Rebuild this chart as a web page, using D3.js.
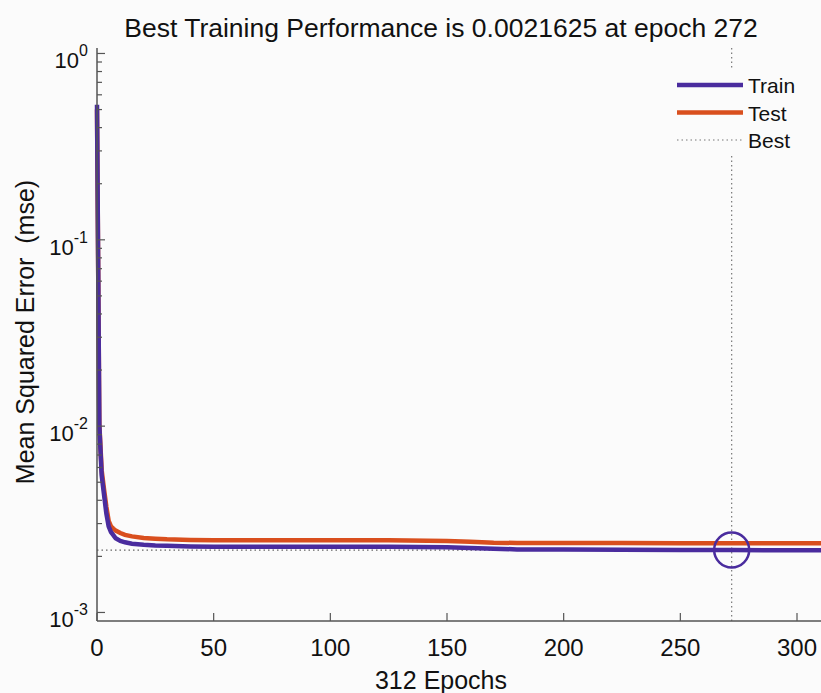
<!DOCTYPE html>
<html>
<head>
<meta charset="utf-8">
<script src="https://cdn.jsdelivr.net/npm/d3@7"></script>
<style>
  body { margin: 0; background: #fbfbfb; }
  svg { display: block; font-family: "Liberation Sans", Arial, sans-serif; }
</style>
</head>
<body>
<div id="app"></div>
<script>
// values
const epochs = [0, 1, 2, 3, 4, 5, 6, 7, 8, 10, 12, 15, 20, 25, 30, 40, 50, 75, 100, 125, 150, 160, 170, 180, 200, 225, 250, 272, 290, 312];
const trainMse = [0.53, 0.0101, 0.00545, 0.0043, 0.0034, 0.0029, 0.0027, 0.0026, 0.0025, 0.00242, 0.00238, 0.00234, 0.00231, 0.00229, 0.00228, 0.00226, 0.00225, 0.00225, 0.00225, 0.00225, 0.00224, 0.00222, 0.0022, 0.00218, 0.002175, 0.00217, 0.002165, 0.0021625, 0.00216, 0.00216];
const testMse = [0.5, 0.0103, 0.0058, 0.0046, 0.0037, 0.0031, 0.0029, 0.00282, 0.00275, 0.00267, 0.00261, 0.00256, 0.00251, 0.00249, 0.00247, 0.00245, 0.00244, 0.00244, 0.00244, 0.00244, 0.00242, 0.0024, 0.00237, 0.00236, 0.00236, 0.00236, 0.00235, 0.00235, 0.00235, 0.00235];
const bestEpoch = 272;
const bestPerf = 0.0021625;
const xTicks = [0, 50, 100, 150, 200, 250, 300];
const yTicks = [1e-3, 1e-2, 1e-1, 1e0];
const yExps = ['-3', '-2', '-1', '0'];
const legendNames = ['Train', 'Test', 'Best'];

const W = 821, H = 693;
const trainColor = '#4a2c9e', testColor = '#d94f1e', axisColor = '#555';

const svg = d3.select('#app').append('svg')
  .attr('width', W).attr('height', H);

const x = d3.scaleLinear().domain([0, 312]).range([97, 825]);
const y = d3.scaleLog().domain([0.0009, 1.07]).range([621, 48]);

// best markers (dotted)
svg.append('line')
  .attr('x1', x(0)).attr('x2', W)
  .attr('y1', y(bestPerf)).attr('y2', y(bestPerf))
  .attr('stroke', '#666').attr('stroke-width', 1.2).attr('stroke-dasharray', '1.5,3');
svg.append('line')
  .attr('x1', x(bestEpoch)).attr('x2', x(bestEpoch))
  .attr('y1', y.range()[1]).attr('y2', y.range()[0])
  .attr('stroke', '#777').attr('stroke-width', 1.2).attr('stroke-dasharray', '1.5,3');

const line = (vals) => d3.line()
  .x((d, i) => x(epochs[i]))
  .y(d => y(d))(vals);

svg.append('path').attr('d', line(testMse))
  .attr('fill', 'none').attr('stroke', testColor).attr('stroke-width', 4.5);
svg.append('path').attr('d', line(trainMse))
  .attr('fill', 'none').attr('stroke', trainColor).attr('stroke-width', 4.5);

svg.append('circle')
  .attr('cx', x(bestEpoch)).attr('cy', y(bestPerf)).attr('r', 17.5)
  .attr('fill', 'none').attr('stroke', trainColor).attr('stroke-width', 2.5);

// axes
const xAxis = svg.append('g');
xAxis.append('line')
  .attr('x1', x(0)).attr('x2', W).attr('y1', y.range()[0]).attr('y2', y.range()[0])
  .attr('stroke', axisColor).attr('stroke-width', 1.5);
xTicks.forEach(t => {
  xAxis.append('line')
    .attr('x1', x(t)).attr('x2', x(t))
    .attr('y1', y.range()[0]).attr('y2', y.range()[0] - 8)
    .attr('stroke', axisColor).attr('stroke-width', 1.2);
  xAxis.append('text')
    .attr('x', x(t)).attr('y', 656)
    .attr('text-anchor', 'middle').attr('font-size', 24).attr('fill', '#111')
    .text(t);
});

const yAxis = svg.append('g');
yAxis.append('line')
  .attr('x1', x(0)).attr('x2', x(0)).attr('y1', y.range()[0]).attr('y2', y.range()[1])
  .attr('stroke', axisColor).attr('stroke-width', 1.5);
const minor = [];
yTicks.forEach(t => { for (let k = 2; k <= 9; k++) if (t * k < 1.07) minor.push(t * k); });
minor.forEach(t => {
  yAxis.append('line')
    .attr('x1', x(0)).attr('x2', x(0) + 5)
    .attr('y1', y(t)).attr('y2', y(t))
    .attr('stroke', axisColor).attr('stroke-width', 1.2);
});
yTicks.forEach((t, i) => {
  yAxis.append('line')
    .attr('x1', x(0)).attr('x2', x(0) + 8)
    .attr('y1', y(t)).attr('y2', y(t))
    .attr('stroke', axisColor).attr('stroke-width', 1.2);
  const lbl = yAxis.append('text')
    .attr('x', 88).attr('y', y(t) + 15)
    .attr('text-anchor', 'end').attr('font-size', 22).attr('fill', '#111');
  lbl.append('tspan').text('10');
  lbl.append('tspan').attr('dy', -12).attr('font-size', 16).text(yExps[i]);
});

// titles
svg.append('text')
  .attr('x', 441).attr('y', 37).attr('text-anchor', 'middle')
  .attr('font-size', 26.5).attr('fill', '#111')
  .text('Best Training Performance is 0.0021625 at epoch 272');
svg.append('text')
  .attr('x', 441).attr('y', 689).attr('text-anchor', 'middle')
  .attr('font-size', 25).attr('fill', '#111')
  .text('312 Epochs');
svg.append('text')
  .attr('transform', 'translate(34,332) rotate(-90)')
  .attr('text-anchor', 'middle').attr('font-size', 25).attr('fill', '#111')
  .attr('xml:space', 'preserve').style('white-space', 'pre')
  .text('Mean Squared Error  (mse)');

// legend
const leg = svg.append('g');
leg.append('rect')
  .attr('x', 670).attr('y', 68).attr('width', 140).attr('height', 88)
  .attr('fill', '#fbfbfb');
const legStyles = [
  { color: trainColor, width: 4.5, dash: null },
  { color: testColor, width: 4.5, dash: null },
  { color: '#777', width: 1.2, dash: '1.5,3' }
];
legendNames.forEach((name, i) => {
  const ly = 85 + i * 27.5;
  leg.append('line')
    .attr('x1', 677).attr('x2', 743).attr('y1', ly).attr('y2', ly)
    .attr('stroke', legStyles[i].color).attr('stroke-width', legStyles[i].width)
    .attr('stroke-dasharray', legStyles[i].dash);
  leg.append('text')
    .attr('x', 748).attr('y', ly + 8)
    .attr('font-size', 21).attr('fill', '#111')
    .text(name);
});
</script>
</body>
</html>
